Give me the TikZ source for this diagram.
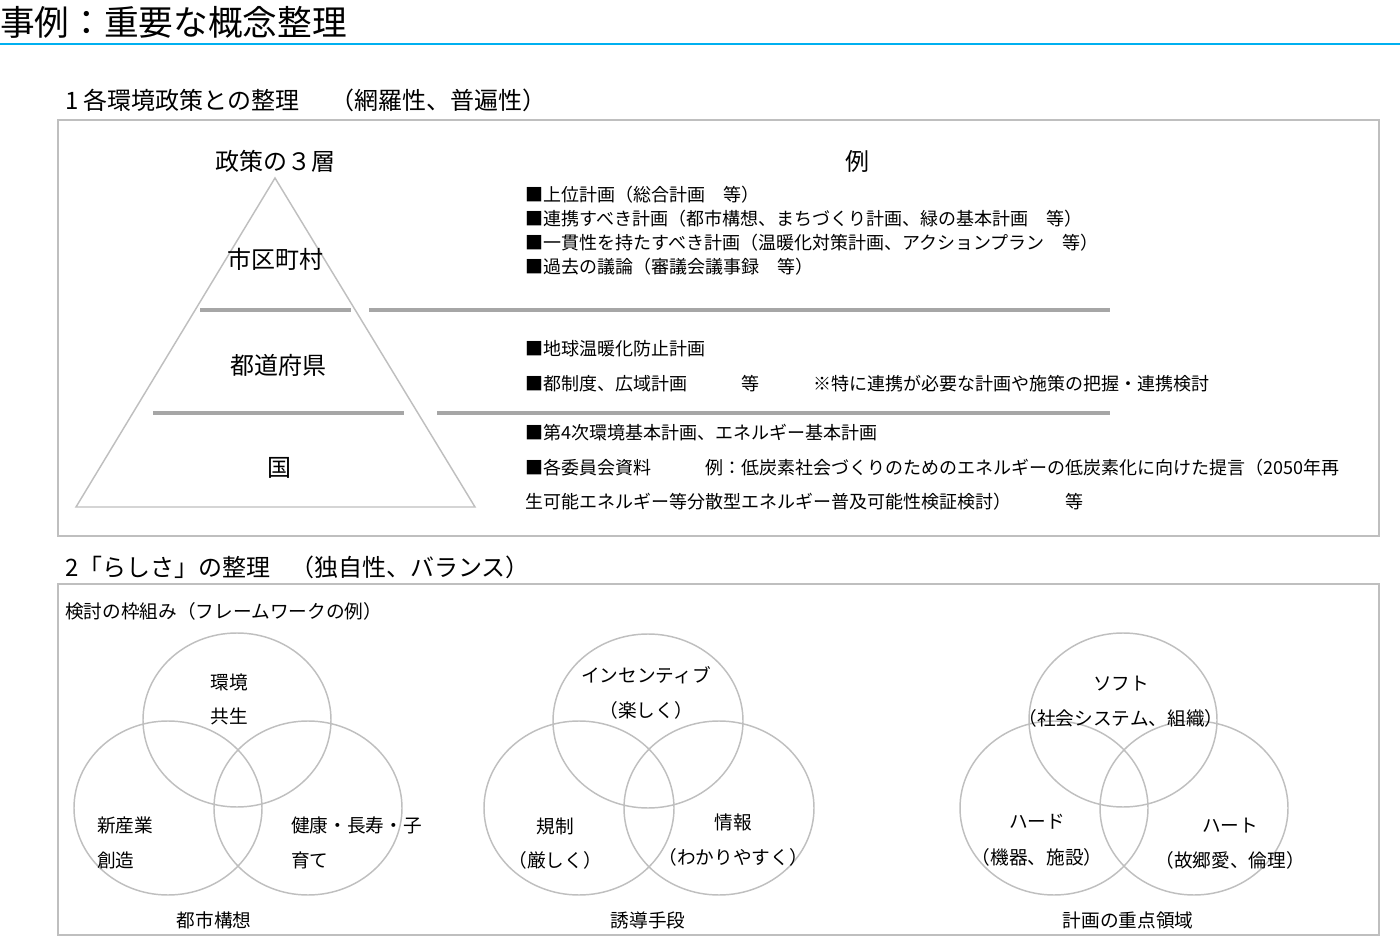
\documentclass[tikz,border=0pt]{standalone}
\usepackage{fontspec}
\setmainfont{Noto Sans CJK JP}
\usepackage{tikz}
\definecolor{framegray}{RGB}{191,191,191}
\definecolor{rulegray}{RGB}{166,166,166}
\definecolor{titleblue}{RGB}{0,176,240}

\begin{document}
\begin{tikzpicture}[
  x=0.75pt, y=-0.75pt,
  every node/.style={inner sep=0pt},
  heading/.style={anchor=west, font=\fontsize{18}{22}\selectfont},
  layer/.style={font=\fontsize{18}{22}\selectfont},
  item/.style={anchor=west, font=\fontsize{13.5}{16}\selectfont},
  vlabel/.style={font=\fontsize{14}{17}\selectfont},
  panel/.style={draw=framegray, line width=1.5pt},
  tier/.style={draw=framegray, line width=1.1pt},
  divider/.style={draw=rulegray, line width=3pt},
  venn/.style={draw=framegray, line width=1.1pt}
]
\useasboundingbox (0,0) rectangle (1400,952);

% title
\node[anchor=west, font=\fontsize{26}{30}\selectfont] (title) at (0,22) {事例：重要な概念整理};
\draw[titleblue, line width=1pt] (0,44) -- (1400,44);

% part 1
\node[heading] (head1) at (65,100) {1 各環境政策との整理};
\node[heading] (head1b) at (330,100) {（網羅性、普遍性）};
\draw[panel] (58,120) rectangle (1379,536);

\node[layer] (layers) at (275,161) {政策の３層};
\node[layer] (examples) at (857,161) {例};
\draw[tier] (275,178) -- (475,507) -- (76,507) -- cycle;
\node[layer] (city) at (275,259) {市区町村};
\node[layer] (pref) at (278,365) {都道府県};
\node[layer] (nation) at (279,468) {国};

\draw[divider] (200,310) -- (351,310);
\draw[divider] (369,310) -- (1110,310);
\draw[divider] (153,413) -- (404,413);
\draw[divider] (437,413) -- (1110,413);

\node[item] (city1) at (525,195) {■上位計画（総合計画　等）};
\node[item] (city2) at (525,219) {■連携すべき計画（都市構想、まちづくり計画、緑の基本計画　等）};
\node[item] (city3) at (525,243) {■一貫性を持たすべき計画（温暖化対策計画、アクションプラン　等）};
\node[item] (city4) at (525,267) {■過去の議論（審議会議事録　等）};
\node[item] (pref1) at (525,349) {■地球温暖化防止計画};
\node[item] (pref2) at (525,384) {■都制度、広域計画　　　等　　　※特に連携が必要な計画や施策の把握・連携検討};
\node[item] (nation1) at (525,433) {■第4次環境基本計画、エネルギー基本計画};
\node[item] (nation2) at (525,468) {■各委員会資料　　　例：低炭素社会づくりのためのエネルギーの低炭素化に向けた提言（2050年再};
\node[item] (nation3) at (525,502) {生可能エネルギー等分散型エネルギー普及可能性検証検討）　　　等};

% part 2
\node[heading] (head2) at (65,567) {2「らしさ」の整理};
\node[heading] (head2b) at (290,567) {（独自性、バランス）};
\draw[panel] (58,584) rectangle (1379,935);
\node[item, font=\fontsize{14}{17}\selectfont] (frame) at (65,611) {検討の枠組み（フレームワークの例）};

% venn: city vision
\draw[venn] (237,720) ellipse[x radius=94, y radius=87];
\draw[venn] (168,808) ellipse[x radius=94, y radius=87];
\draw[venn] (308,808) ellipse[x radius=94, y radius=87];
\node[vlabel] (envA) at (229,682) {環境};
\node[vlabel] (envB) at (229,716) {共生};
\node[vlabel, anchor=west] (indA) at (97,825) {新産業};
\node[vlabel, anchor=west] (indB) at (97,860) {創造};
\node[vlabel, anchor=west] (hlthA) at (291,825) {健康・長寿・子};
\node[vlabel, anchor=west] (hlthB) at (291,860) {育て};
\node[vlabel] (vision) at (214,920) {都市構想};

% venn: means
\draw[venn] (648,721) ellipse[x radius=95, y radius=87];
\draw[venn] (579,808) ellipse[x radius=95, y radius=87];
\draw[venn] (719,808) ellipse[x radius=95, y radius=87];
\node[vlabel] (incA) at (646,675) {インセンティブ};
\node[vlabel] (incB) at (646,710) {（楽しく）};
\node[vlabel] (regA) at (555,826) {規制};
\node[vlabel] (regB) at (555,860) {（厳しく）};
\node[vlabel] (infA) at (733,822) {情報};
\node[vlabel] (infB) at (733,857) {（わかりやすく）};
\node[vlabel] (means) at (648,920) {誘導手段};

% venn: focus areas
\draw[venn] (1123,720) ellipse[x radius=94, y radius=87];
\draw[venn] (1054,808) ellipse[x radius=94, y radius=87];
\draw[venn] (1194,808) ellipse[x radius=94, y radius=87];
\node[vlabel] (softA) at (1121,684) {ソフト};
\node[vlabel] (softB) at (1121,718) {（社会システム、組織）};
\node[vlabel] (hardA) at (1037,822) {ハード};
\node[vlabel] (hardB) at (1037,857) {（機器、施設）};
\node[vlabel] (heartA) at (1230,826) {ハート};
\node[vlabel] (heartB) at (1230,860) {（故郷愛、倫理）};
\node[vlabel] (focus) at (1128,920) {計画の重点領域};
\end{tikzpicture}
\end{document}
